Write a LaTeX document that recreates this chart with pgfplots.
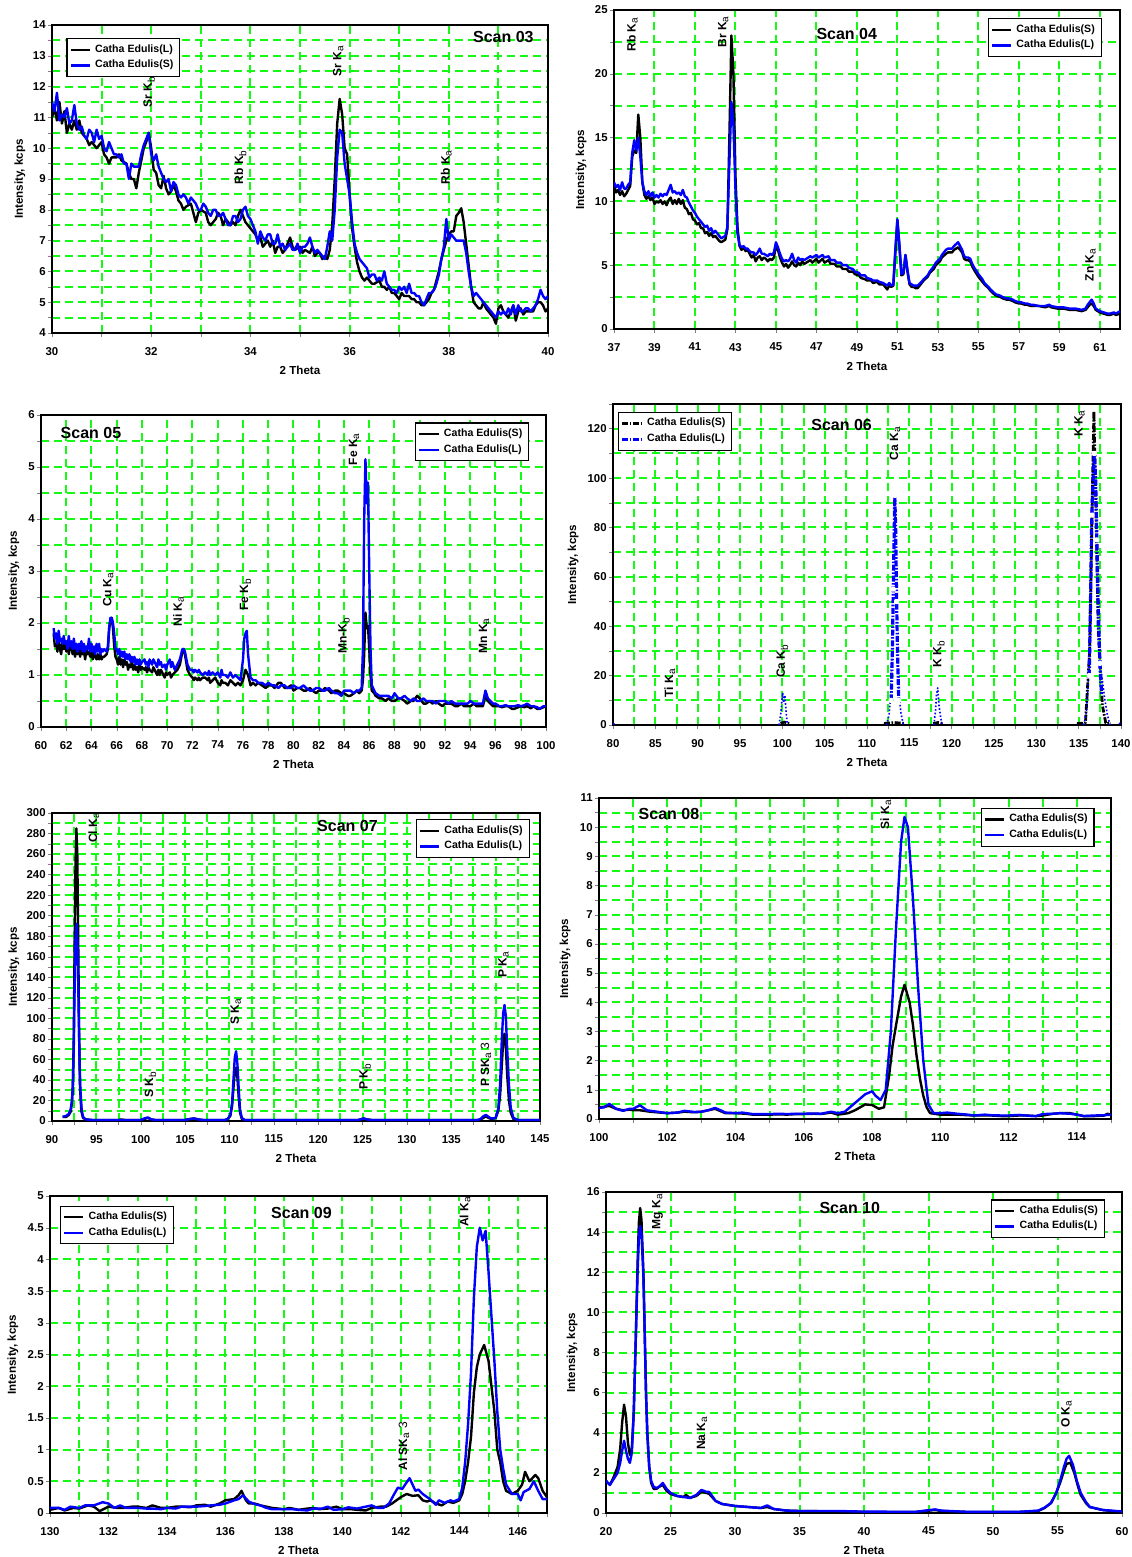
\documentclass[border=0pt]{standalone}
\usepackage{fontspec}
\setmainfont{Liberation Sans}
\usepackage{pgfplots}
\pgfplotsset{compat=1.18}
\usetikzlibrary{calc}
\definecolor{gridgreen}{RGB}{20,250,20}
\definecolor{xblue}{RGB}{0,0,255}
\newcommand{\tickfont}{\bfseries\fontsize{5.7}{7}\selectfont}
\newcommand{\labfont}{\bfseries\fontsize{5.8}{7}\selectfont}
\newcommand{\legfont}{\bfseries\fontsize{5.3}{6}\selectfont}
\newcommand{\titfont}{\bfseries\fontsize{8}{9}\selectfont}
\newcommand{\pkfont}{\bfseries\fontsize{6}{7}\selectfont}
\newcommand{\sa}{\textsubscript{\mdseries a}}
\newcommand{\sbb}{\textsubscript{\mdseries b}}
\pgfplotsset{
  xrf/.style={
    scale only axis, anchor=north west,
    axis line style={line width=1pt},
    tick pos=left, tick align=outside,
    major tick length=2pt,
    grid=major,
    major grid style={gridgreen, dash pattern=on 4pt off 2.5pt, line width=1pt},
    tick label style={font=\tickfont},
    xticklabel style={yshift=-1.5pt},
    yticklabel style={inner xsep=1pt},
    /pgf/number format/assume math mode=true,
    /pgf/number format/fixed,
    xlabel={2 Theta}, ylabel={Intensity, kcps},
    label style={font=\labfont},
    xlabel style={at={(axis description cs:0.5,0)}, anchor=center, yshift=-18.5pt},
    legend style={draw=black, line width=0.6pt, fill=white, font=\legfont,
      inner xsep=1.2pt, inner ysep=0.8pt, row sep=-1.5pt},
    legend cell align=left,
    legend image code/.code={\draw[##1] (0cm,0cm) -- (0.34cm,0cm);},
    every axis plot/.append style={line width=1.2pt, line join=round},
  },
  ylab/.style={ylabel style={at={($(axis description cs:0,0.5)+(-#1,0)$)}, anchor=center}},
}
\begin{document}
\begin{tikzpicture}
\useasboundingbox (0,0) rectangle (565.5pt,-778.5pt);

% ---------- Scan 03
\begin{axis}[xrf, ylab=16pt, at={(26pt,-12.5pt)}, width=248pt, height=154pt,
  xmin=30, xmax=40, ymin=4, ymax=14,
  xtick={30,31,...,40}, xticklabels={30,,32,,34,,36,,38,,40},
  ytick={4,4.5,...,14}, yticklabels={4,,5,,6,,7,,8,,9,,10,,11,,12,,13,,14},
  legend style={at={(0.029,0.957)}, anchor=north west}]
\addplot[black] coordinates {
(30.0,11.0) (30.05,11.3) (30.1,10.9) (30.15,11.5) (30.2,10.8) (30.25,11.2) (30.3,10.5) (30.35,10.8) (30.4,10.6) (30.45,10.9)
(30.5,10.6) (30.55,10.9) (30.6,10.5) (30.7,10.3) (30.75,10.1) (30.8,10.2) (30.9,10.0) (31.0,10.2) (31.05,9.8) (31.1,9.7)
(31.15,9.5) (31.2,9.7) (31.3,9.7) (31.35,9.8) (31.4,9.6) (31.5,9.5) (31.55,9.2) (31.6,9.0) (31.65,9.0) (31.7,8.7)
(31.75,9.2) (31.8,9.6) (31.85,10.0) (31.9,10.2) (31.95,10.5) (32.0,10.0) (32.05,9.3) (32.1,9.2) (32.15,8.8) (32.2,8.7)
(32.25,9.1) (32.3,8.7) (32.35,8.5) (32.4,8.6) (32.45,8.8) (32.5,8.6) (32.55,8.3) (32.6,8.2) (32.65,8.0) (32.7,8.1)
(32.8,8.2) (32.85,7.9) (32.9,7.6) (32.95,7.9) (33.0,8.0) (33.1,7.9) (33.15,7.6) (33.2,7.5) (33.3,7.7) (33.35,7.9)
(33.4,7.8) (33.45,7.5) (33.5,7.7) (33.55,7.6) (33.6,7.5) (33.65,7.6) (33.7,7.5) (33.75,7.8) (33.8,8.0) (33.85,7.8)
(33.9,7.6) (34.0,7.4) (34.05,7.3) (34.1,7.2) (34.15,7.0) (34.2,7.1) (34.25,6.8) (34.3,6.9) (34.35,7.0) (34.4,6.8)
(34.45,7.0) (34.5,6.6) (34.55,6.8) (34.6,6.8) (34.65,6.6) (34.7,6.7) (34.8,7.1) (34.85,6.8) (34.9,6.7) (35.0,6.8)
(35.05,6.6) (35.1,6.7) (35.2,6.6) (35.25,6.8) (35.3,6.5) (35.35,6.6) (35.4,6.6) (35.45,6.4) (35.5,6.5) (35.55,6.4)
(35.6,6.7) (35.65,7.5) (35.7,9.0) (35.75,10.8) (35.8,11.6) (35.85,11.1) (35.9,10.0) (35.95,9.8) (36.0,8.5) (36.05,7.4)
(36.1,6.8) (36.15,6.3) (36.2,6.0) (36.25,5.8) (36.3,5.7) (36.35,5.8) (36.4,5.7) (36.45,5.6) (36.5,5.6) (36.6,5.7)
(36.65,5.5) (36.7,5.5) (36.75,5.4) (36.8,5.5) (36.85,5.3) (36.9,5.3) (36.95,5.2) (37.0,5.1) (37.05,5.3) (37.1,5.2)
(37.2,5.2) (37.25,5.1) (37.3,5.1) (37.35,5.0) (37.4,5.0) (37.45,4.9) (37.5,4.9) (37.55,5.0) (37.6,5.1) (37.65,5.3)
(37.7,5.4) (37.75,5.7) (37.8,6.0) (37.85,6.4) (37.9,6.7) (37.95,7.0) (38.0,7.2) (38.05,7.3) (38.1,7.3) (38.15,7.8)
(38.2,7.9) (38.25,8.05) (38.3,7.6) (38.35,6.9) (38.4,6.2) (38.45,5.5) (38.5,5.0) (38.55,4.9) (38.6,4.8) (38.65,4.8)
(38.7,5.0) (38.75,4.8) (38.8,4.7) (38.85,4.6) (38.9,4.5) (38.95,4.3) (39.0,4.8) (39.05,4.9) (39.1,4.7) (39.15,4.6)
(39.2,4.5) (39.25,4.7) (39.3,4.9) (39.35,4.4) (39.4,4.7) (39.45,4.8) (39.5,4.6) (39.55,4.7) (39.6,4.7) (39.65,4.7)
(39.7,4.7) (39.75,4.9) (39.8,5.0) (39.85,5.0) (39.9,4.9) (39.95,4.7) (40.0,4.8)};
\addlegendentry{Catha Edulis(L)}
\addplot[xblue] coordinates {
(30.0,11.5) (30.05,11.2) (30.1,11.8) (30.15,10.9) (30.2,11.1) (30.25,11.0) (30.3,11.3) (30.35,10.8) (30.4,10.9) (30.45,11.4)
(30.5,10.8) (30.55,10.6) (30.6,10.7) (30.65,10.4) (30.7,10.3) (30.75,10.6) (30.8,10.5) (30.85,10.2) (30.9,10.6) (30.95,10.3)
(31.0,10.4) (31.05,10.0) (31.1,9.9) (31.15,10.2) (31.2,10.0) (31.25,9.8) (31.3,9.8) (31.35,9.7) (31.4,9.8) (31.45,9.5)
(31.5,9.5) (31.55,9.0) (31.6,9.5) (31.65,9.4) (31.7,9.4) (31.75,9.4) (31.8,9.8) (31.85,10.1) (31.9,10.3) (31.95,10.5)
(32.0,9.8) (32.05,9.6) (32.1,9.8) (32.15,9.4) (32.2,9.2) (32.25,9.0) (32.3,8.9) (32.35,9.0) (32.4,8.6) (32.45,8.9)
(32.5,8.8) (32.55,8.5) (32.6,8.4) (32.65,8.5) (32.7,8.4) (32.75,8.2) (32.8,8.4) (32.85,8.3) (32.9,8.2) (32.95,8.0)
(33.0,8.0) (33.05,8.2) (33.1,8.1) (33.15,7.9) (33.2,7.8) (33.25,8.0) (33.3,8.0) (33.35,7.8) (33.4,7.8) (33.45,7.9)
(33.5,7.7) (33.55,7.5) (33.6,7.5) (33.65,7.8) (33.7,7.8) (33.75,7.6) (33.8,7.7) (33.85,8.0) (33.9,8.1) (33.95,7.8)
(34.0,7.7) (34.05,7.5) (34.1,7.3) (34.15,6.9) (34.2,7.3) (34.25,7.1) (34.3,7.0) (34.35,7.2) (34.4,7.2) (34.45,6.9)
(34.5,6.9) (34.55,7.2) (34.6,6.8) (34.65,6.9) (34.7,6.7) (34.75,6.8) (34.8,6.9) (34.85,6.7) (34.9,6.7) (34.95,6.9)
(35.0,6.6) (35.05,6.8) (35.1,6.8) (35.15,6.9) (35.2,7.1) (35.25,6.8) (35.3,6.6) (35.35,6.7) (35.4,6.6) (35.45,6.5)
(35.5,6.4) (35.55,6.8) (35.6,7.3) (35.65,7.0) (35.7,8.0) (35.75,9.7) (35.8,10.6) (35.85,10.5) (35.9,9.5) (35.95,9.0)
(36.0,8.5) (36.05,7.6) (36.1,6.9) (36.15,6.6) (36.2,6.4) (36.25,6.3) (36.3,6.2) (36.35,6.1) (36.4,5.8) (36.45,5.9)
(36.5,5.9) (36.55,5.7) (36.6,5.8) (36.65,5.7) (36.7,6.0) (36.75,5.6) (36.8,5.5) (36.85,5.4) (36.9,5.4) (36.95,5.3)
(37.0,5.5) (37.05,5.4) (37.1,5.5) (37.15,5.3) (37.2,5.6) (37.25,5.3) (37.3,5.3) (37.35,5.2) (37.4,5.2) (37.45,5.0)
(37.5,4.9) (37.55,5.1) (37.6,5.3) (37.65,5.3) (37.7,5.4) (37.75,5.6) (37.8,5.9) (37.85,6.4) (37.9,6.8) (37.95,7.7)
(38.0,7.0) (38.05,7.2) (38.1,7.1) (38.15,7.0) (38.2,7.0) (38.25,7.0) (38.3,7.0) (38.35,6.6) (38.4,6.0) (38.45,5.5)
(38.5,5.2) (38.55,5.3) (38.6,5.2) (38.65,5.1) (38.7,5.0) (38.75,4.9) (38.8,4.8) (38.85,4.7) (38.9,4.6) (38.95,4.5)
(39.0,4.7) (39.05,4.6) (39.1,4.7) (39.15,4.6) (39.2,4.8) (39.25,4.6) (39.3,4.9) (39.35,4.6) (39.4,4.9) (39.45,4.7)
(39.5,4.7) (39.55,4.8) (39.6,4.8) (39.65,4.7) (39.7,4.8) (39.75,4.9) (39.8,5.1) (39.85,5.4) (39.9,5.2) (39.95,5.1) (40.0,5.2)};
\addlegendentry{Catha Edulis(S)}
\node[font=\titfont] at (axis cs:39.1,13.6) {Scan 03};
\node[font=\pkfont, rotate=90, anchor=west] at (axis cs:31.96,11.1) {Sr K\sbb};
\node[font=\pkfont, rotate=90, anchor=west] at (axis cs:33.8,8.6) {Rb K\sbb};
\node[font=\pkfont, rotate=90, anchor=west] at (axis cs:35.77,12.1) {Sr K\sa};
\node[font=\pkfont, rotate=90, anchor=west] at (axis cs:37.95,8.6) {Rb K\sa};
\end{axis}

% ---------- Scan 04
\begin{axis}[xrf, ylab=16.5pt, at={(307pt,-5pt)}, width=253pt, height=159.5pt,
  xmin=37, xmax=62, ymin=0, ymax=25,
  xtick={37,39,...,61},
  ytick={0,2.5,...,25}, yticklabels={0,,5,,10,,15,,20,,25},
  legend style={at={(0.964,0.974)}, anchor=north east}]
\addplot[black] coordinates {
(37.0,11.2) (37.1,10.7) (37.2,10.9) (37.3,10.5) (37.4,10.8) (37.5,10.4) (37.6,10.6) (37.7,10.9) (37.8,11.2) (37.9,13.5)
(38.0,14.0) (38.1,13.8) (38.2,16.8) (38.3,15.0) (38.4,11.5) (38.5,10.5) (38.6,10.2) (38.7,10.4) (38.8,10.1) (38.9,10.3)
(39.0,9.8) (39.1,10.0) (39.2,9.9) (39.3,10.1) (39.4,9.8) (39.5,10.0) (39.6,9.7) (39.7,10.1) (39.8,10.3) (39.9,9.8)
(40.0,10.1) (40.1,9.8) (40.2,10.2) (40.3,9.8) (40.4,10.1) (40.5,9.5) (40.6,9.4) (40.7,9.0) (40.8,9.1) (40.9,8.6)
(41.0,8.5) (41.1,8.2) (41.2,8.3) (41.3,7.9) (41.4,7.9) (41.5,7.5) (41.6,7.6) (41.7,7.3) (41.8,7.5) (41.9,7.2)
(42.0,7.3) (42.1,7.1) (42.2,6.9) (42.3,6.8) (42.4,6.9) (42.5,7.0) (42.6,7.8) (42.7,15.0) (42.8,23.0) (42.9,20.0)
(43.0,12.0) (43.1,8.0) (43.2,6.5) (43.3,6.2) (43.4,6.4) (43.5,6.1) (43.6,6.2) (43.7,5.9) (43.8,5.6) (43.9,5.8)
(44.0,5.3) (44.1,5.6) (44.2,5.7) (44.3,5.4) (44.4,5.6) (44.5,5.5) (44.6,5.3) (44.7,5.5) (44.8,5.4) (44.9,5.6)
(45.0,6.5) (45.1,6.2) (45.2,5.6) (45.3,5.2) (45.4,4.9) (45.5,5.1) (45.6,4.8) (45.7,5.0) (45.8,5.3) (45.9,5.0)
(46.0,4.9) (46.1,5.2) (46.2,5.0) (46.3,5.3) (46.4,5.1) (46.5,5.2) (46.7,5.4) (46.8,5.2) (47.0,5.5) (47.1,5.2)
(47.3,5.5) (47.4,5.2) (47.6,5.4) (47.7,5.1) (47.9,5.1) (48.0,4.9) (48.2,4.9) (48.3,4.7) (48.5,4.7) (48.6,4.5)
(48.8,4.5) (48.9,4.3) (49.1,4.2) (49.2,4.0) (49.4,3.9) (49.5,3.8) (49.7,3.8) (49.8,3.6) (50.0,3.7) (50.1,3.5)
(50.3,3.5) (50.4,3.3) (50.5,3.1) (50.6,3.4) (50.7,3.3) (50.8,3.4) (50.9,6.0) (51.0,8.5) (51.1,6.5) (51.2,4.2)
(51.3,4.3) (51.4,5.8) (51.5,4.5) (51.6,3.5) (51.7,3.3) (51.8,3.3) (51.9,3.2) (52.0,3.2) (52.2,3.6) (52.3,3.8)
(52.5,4.1) (52.6,4.4) (52.8,4.7) (52.9,5.0) (53.1,5.3) (53.2,5.6) (53.4,5.9) (53.5,6.0) (53.7,6.0) (53.8,6.2)
(54.0,6.4) (54.1,6.2) (54.2,6.0) (54.3,5.5) (54.4,5.4) (54.5,5.4) (54.6,5.3) (54.7,4.9) (54.8,4.6) (55.0,4.1)
(55.2,3.7) (55.3,3.5) (55.5,3.2) (55.6,3.0) (55.8,2.7) (55.9,2.6) (56.1,2.5) (56.2,2.4) (56.4,2.3) (56.5,2.3)
(56.7,2.2) (56.8,2.1) (57.0,2.0) (57.1,2.0) (57.3,1.9) (57.4,1.9) (57.6,1.8) (57.7,1.8) (58.0,1.8) (58.3,1.7)
(58.5,1.8) (58.6,1.7) (58.9,1.6) (59.2,1.6) (59.5,1.5) (59.8,1.5) (60.1,1.4) (60.3,1.5) (60.4,1.7) (60.5,1.9)
(60.6,2.0) (60.7,1.8) (60.8,1.5) (60.9,1.4) (61.0,1.3) (61.2,1.2) (61.4,1.1) (61.5,1.1) (61.7,1.2) (61.8,1.1) (62.0,1.2)};
\addlegendentry{Catha Edulis(S)}
\addplot[xblue] coordinates {
(37.0,11.5) (37.1,11.1) (37.2,11.3) (37.3,10.9) (37.4,11.5) (37.5,11.0) (37.6,11.0) (37.7,11.3) (37.8,11.5) (37.9,13.8)
(38.0,14.8) (38.1,14.0) (38.2,15.0) (38.3,13.5) (38.4,11.5) (38.5,10.8) (38.6,10.5) (38.7,10.8) (38.8,10.4) (38.9,10.7)
(39.0,10.3) (39.1,10.5) (39.2,10.3) (39.3,10.6) (39.4,10.4) (39.5,10.6) (39.6,10.5) (39.7,10.9) (39.8,11.3) (39.9,10.7)
(40.0,10.8) (40.1,10.6) (40.2,10.7) (40.3,10.5) (40.4,10.9) (40.5,10.4) (40.6,10.3) (40.7,9.9) (40.8,9.6) (40.9,9.3)
(41.0,9.1) (41.1,8.8) (41.2,8.6) (41.3,8.4) (41.4,8.2) (41.5,8.0) (41.6,8.1) (41.7,7.7) (41.8,7.9) (41.9,7.5)
(42.0,7.7) (42.1,7.5) (42.2,7.3) (42.3,7.1) (42.4,7.2) (42.5,7.3) (42.6,8.0) (42.7,13.0) (42.8,17.8) (42.9,16.0)
(43.0,11.0) (43.1,7.5) (43.2,6.6) (43.3,6.4) (43.4,6.5) (43.5,6.3) (43.6,6.3) (43.7,6.1) (43.8,6.0) (43.9,6.0)
(44.0,5.8) (44.1,6.0) (44.2,6.3) (44.3,5.9) (44.4,5.9) (44.5,5.8) (44.6,5.7) (44.7,5.9) (44.8,5.8) (44.9,6.0)
(45.0,6.8) (45.1,6.4) (45.2,5.9) (45.3,5.5) (45.4,5.3) (45.5,5.4) (45.6,5.3) (45.7,5.5) (45.8,5.9) (45.9,5.4)
(46.0,5.2) (46.1,5.6) (46.2,5.4) (46.3,5.5) (46.4,5.4) (46.5,5.5) (46.7,5.7) (46.8,5.6) (47.0,5.8) (47.1,5.6)
(47.3,5.8) (47.4,5.6) (47.6,5.7) (47.7,5.4) (47.9,5.4) (48.0,5.2) (48.2,5.2) (48.3,5.0) (48.5,5.0) (48.6,4.8)
(48.8,4.7) (48.9,4.5) (49.1,4.4) (49.2,4.2) (49.4,4.2) (49.5,4.0) (49.7,3.9) (49.8,3.8) (50.0,3.8) (50.1,3.7)
(50.3,3.6) (50.4,3.5) (50.5,3.4) (50.6,3.6) (50.7,3.4) (50.8,3.5) (50.9,6.2) (51.0,8.6) (51.1,6.6) (51.2,4.3)
(51.3,4.4) (51.4,5.8) (51.5,4.6) (51.6,3.6) (51.7,3.5) (51.8,3.4) (51.9,3.4) (52.0,3.4) (52.2,3.7) (52.3,3.9)
(52.5,4.2) (52.6,4.5) (52.8,4.9) (52.9,5.2) (53.1,5.5) (53.2,5.8) (53.4,6.2) (53.5,6.3) (53.7,6.3) (53.8,6.5)
(54.0,6.8) (54.1,6.5) (54.2,6.2) (54.3,5.7) (54.4,5.6) (54.5,5.6) (54.6,5.5) (54.7,5.1) (54.8,4.8) (55.0,4.3)
(55.2,3.9) (55.3,3.6) (55.5,3.3) (55.6,3.1) (55.8,2.8) (55.9,2.7) (56.1,2.6) (56.2,2.5) (56.4,2.4) (56.5,2.4)
(56.7,2.3) (56.8,2.2) (57.0,2.1) (57.1,2.1) (57.3,2.0) (57.4,2.0) (57.6,1.9) (57.7,1.9) (58.0,1.8) (58.3,1.8)
(58.5,1.9) (58.6,1.8) (58.9,1.7) (59.2,1.7) (59.5,1.6) (59.8,1.6) (60.1,1.5) (60.3,1.6) (60.4,1.9) (60.5,2.1)
(60.6,2.3) (60.7,2.0) (60.8,1.6) (60.9,1.5) (61.0,1.4) (61.2,1.3) (61.4,1.2) (61.5,1.2) (61.7,1.3) (61.8,1.2) (62.0,1.4)};
\addlegendentry{Catha Edulis(L)}
\node[font=\titfont] at (axis cs:48.5,23.1) {Scan 04};
\node[font=\pkfont, rotate=90, anchor=west] at (axis cs:37.9,21.2) {Rb K\sa};
\node[font=\pkfont, rotate=90, anchor=west] at (axis cs:42.4,21.5) {Br K\sa};
\node[font=\pkfont, rotate=90, anchor=west] at (axis cs:60.55,3.2) {Zn K\sa};
\end{axis}

% ---------- Scan 05
\begin{axis}[xrf, ylab=13.5pt, at={(20.5pt,-207.5pt)}, width=252.5pt, height=156pt,
  xmin=60, xmax=100, ymin=0, ymax=6,
  xtick={60,62,...,100},
  ytick={0,0.5,...,6}, yticklabels={0,,1,,2,,3,,4,,5,,6},
  legend style={at={(0.967,0.976)}, anchor=north east}]
\addplot[black] coordinates {
(61.0,1.8) (61.1,1.55) (61.2,1.6) (61.3,1.45) (61.4,1.7) (61.5,1.5) (61.6,1.4) (61.7,1.65) (61.8,1.5) (61.9,1.6)
(62.0,1.45) (62.1,1.6) (62.2,1.4) (62.3,1.55) (62.4,1.6) (62.5,1.4) (62.6,1.5) (62.7,1.35) (62.8,1.55) (62.9,1.4)
(63.0,1.5) (63.1,1.35) (63.2,1.55) (63.3,1.4) (63.4,1.45) (63.5,1.3) (63.6,1.5) (63.7,1.4) (63.8,1.45) (63.9,1.35)
(64.0,1.45) (64.1,1.3) (64.2,1.45) (64.3,1.35) (64.4,1.3) (64.5,1.4) (64.6,1.3) (64.7,1.4) (64.8,1.3) (64.9,1.35)
(65.0,1.35) (65.2,1.4) (65.3,1.5) (65.4,1.9) (65.5,2.05) (65.6,2.1) (65.7,1.9) (65.8,1.55) (65.9,1.35) (66.0,1.3)
(66.1,1.2) (66.2,1.35) (66.3,1.2) (66.4,1.3) (66.5,1.15) (66.6,1.3) (66.7,1.2) (66.8,1.25) (66.9,1.1) (67.0,1.2)
(67.1,1.15) (67.2,1.25) (67.3,1.1) (67.4,1.2) (67.5,1.1) (67.6,1.15) (67.7,1.05) (67.8,1.2) (67.9,1.1) (68.0,1.15)
(68.2,1.1) (68.3,1.15) (68.4,1.05) (68.5,1.15) (68.6,1.1) (68.8,1.05) (68.9,1.15) (69.0,1.1) (69.2,1.0) (69.3,1.1)
(69.4,1.0) (69.5,1.1) (69.6,1.05) (69.8,0.95) (69.9,1.05) (70.0,1.0) (70.2,1.05) (70.3,0.95) (70.4,1.0) (70.6,1.05)
(70.8,1.1) (71.0,1.2) (71.2,1.45) (71.3,1.5) (71.4,1.4) (71.6,1.1) (71.8,1.0) (72.0,0.95) (72.1,0.9) (72.2,0.95)
(72.4,0.9) (72.5,0.95) (72.6,0.9) (72.8,0.95) (73.0,0.95) (73.2,0.9) (73.3,0.95) (73.4,0.85) (73.6,0.9) (73.8,0.95)
(74.0,0.85) (74.2,0.8) (74.3,0.9) (74.4,0.85) (74.6,0.85) (74.8,0.8) (75.0,0.9) (75.2,0.85) (75.4,0.8) (75.6,0.85)
(75.8,0.8) (76.0,0.9) (76.2,1.1) (76.3,1.05) (76.4,1.0) (76.6,0.8) (76.8,0.85) (77.0,0.8) (77.2,0.85) (77.5,0.8)
(77.8,0.75) (78.0,0.8) (78.3,0.8) (78.5,0.75) (78.8,0.85) (79.0,0.85) (79.3,0.75) (79.5,0.75) (79.8,0.8) (80.0,0.7)
(80.3,0.75) (80.5,0.75) (80.8,0.7) (81.0,0.7) (81.3,0.75) (81.5,0.7) (81.8,0.65) (82.0,0.7) (82.3,0.7) (82.5,0.75)
(82.8,0.7) (83.0,0.65) (83.3,0.7) (83.5,0.7) (83.8,0.65) (84.0,0.65) (84.3,0.6) (84.5,0.6) (84.8,0.65) (85.0,0.7)
(85.2,0.65) (85.4,0.7) (85.5,0.9) (85.6,1.4) (85.7,2.2) (85.8,1.9) (85.9,1.95) (86.0,1.5) (86.1,1.0) (86.2,0.7)
(86.4,0.65) (86.5,0.6) (86.8,0.55) (87.0,0.55) (87.3,0.5) (87.5,0.55) (87.8,0.5) (88.0,0.5) (88.3,0.55) (88.5,0.55)
(88.8,0.5) (89.0,0.45) (89.3,0.5) (89.5,0.5) (89.8,0.6) (90.0,0.55) (90.3,0.45) (90.5,0.45) (90.8,0.5) (91.0,0.45)
(91.3,0.5) (91.5,0.45) (91.8,0.4) (92.0,0.45) (92.3,0.45) (92.5,0.45) (92.8,0.4) (93.0,0.4) (93.3,0.45) (93.5,0.4)
(93.8,0.4) (94.0,0.4) (94.3,0.45) (94.5,0.4) (94.8,0.4) (95.0,0.4) (95.2,0.6) (95.4,0.5) (95.6,0.45) (95.8,0.4)
(96.0,0.4) (96.3,0.4) (96.5,0.38) (96.8,0.4) (97.0,0.4) (97.3,0.35) (97.5,0.35) (97.8,0.38) (98.0,0.4) (98.3,0.38)
(98.5,0.4) (98.8,0.36) (99.0,0.4) (99.3,0.35) (99.5,0.35) (99.8,0.38) (100.0,0.4)};
\addlegendentry{Catha Edulis(S)}
\addplot[xblue] coordinates {
(61.0,1.9) (61.1,1.7) (61.2,1.8) (61.3,1.6) (61.4,1.85) (61.5,1.65) (61.6,1.7) (61.7,1.6) (61.8,1.75) (61.9,1.6)
(62.0,1.65) (62.1,1.5) (62.2,1.75) (62.3,1.55) (62.4,1.65) (62.5,1.5) (62.6,1.7) (62.7,1.5) (62.8,1.6) (62.9,1.45)
(63.0,1.6) (63.1,1.5) (63.2,1.65) (63.3,1.45) (63.4,1.6) (63.5,1.45) (63.6,1.55) (63.7,1.5) (63.8,1.7) (63.9,1.45)
(64.0,1.6) (64.1,1.45) (64.2,1.55) (64.3,1.4) (64.4,1.6) (64.5,1.45) (64.6,1.6) (64.7,1.4) (64.8,1.5) (64.9,1.45)
(65.0,1.5) (65.2,1.45) (65.3,1.55) (65.4,1.9) (65.5,2.1) (65.6,2.1) (65.7,2.0) (65.8,1.8) (65.9,1.5) (66.0,1.5)
(66.1,1.4) (66.2,1.5) (66.3,1.35) (66.4,1.45) (66.5,1.35) (66.6,1.45) (66.7,1.3) (66.8,1.4) (66.9,1.3) (67.0,1.4)
(67.1,1.25) (67.2,1.35) (67.3,1.25) (67.4,1.35) (67.5,1.2) (67.6,1.3) (67.7,1.2) (67.8,1.3) (67.9,1.2) (68.0,1.25)
(68.2,1.3) (68.3,1.2) (68.4,1.25) (68.5,1.15) (68.6,1.3) (68.8,1.2) (68.9,1.3) (69.0,1.25) (69.2,1.15) (69.3,1.3)
(69.4,1.2) (69.5,1.25) (69.6,1.15) (69.8,1.2) (69.9,1.1) (70.0,1.2) (70.2,1.3) (70.3,1.15) (70.4,1.25) (70.6,1.1)
(70.8,1.2) (71.0,1.3) (71.2,1.5) (71.3,1.5) (71.4,1.45) (71.6,1.2) (71.8,1.1) (72.0,1.1) (72.1,1.05) (72.2,1.1)
(72.4,1.05) (72.5,1.1) (72.6,1.05) (72.8,1.0) (73.0,1.05) (73.2,1.0) (73.3,1.08) (73.4,1.0) (73.6,1.05) (73.8,1.0)
(74.0,1.05) (74.2,0.95) (74.3,1.1) (74.4,1.0) (74.6,1.0) (74.8,0.95) (75.0,1.05) (75.2,0.95) (75.4,1.0) (75.6,0.95)
(75.8,0.9) (76.0,1.3) (76.1,1.7) (76.2,1.8) (76.3,1.85) (76.4,1.4) (76.6,0.95) (76.8,0.9) (77.0,0.9) (77.2,0.85)
(77.5,0.85) (77.8,0.8) (78.0,0.85) (78.3,0.8) (78.5,0.8) (78.8,0.75) (79.0,0.8) (79.3,0.8) (79.5,0.75) (79.8,0.75)
(80.0,0.8) (80.3,0.75) (80.5,0.75) (80.8,0.8) (81.0,0.75) (81.3,0.7) (81.5,0.7) (81.8,0.75) (82.0,0.75) (82.3,0.7)
(82.5,0.7) (82.8,0.75) (83.0,0.7) (83.3,0.65) (83.5,0.65) (83.8,0.6) (84.0,0.7) (84.3,0.7) (84.5,0.7) (84.8,0.65)
(85.0,0.7) (85.2,0.7) (85.4,0.75) (85.5,1.5) (85.6,4.0) (85.7,5.15) (85.8,4.3) (85.9,4.7) (86.0,3.0) (86.1,1.5)
(86.2,0.8) (86.4,0.7) (86.5,0.65) (86.8,0.6) (87.0,0.6) (87.3,0.6) (87.5,0.6) (87.8,0.55) (88.0,0.65) (88.3,0.55)
(88.5,0.55) (88.8,0.6) (89.0,0.55) (89.3,0.5) (89.5,0.55) (89.8,0.5) (90.0,0.5) (90.3,0.55) (90.5,0.5) (90.8,0.5)
(91.0,0.5) (91.3,0.45) (91.5,0.5) (91.8,0.5) (92.0,0.5) (92.3,0.45) (92.5,0.5) (92.8,0.45) (93.0,0.45) (93.3,0.45)
(93.5,0.45) (93.8,0.45) (94.0,0.5) (94.3,0.45) (94.5,0.45) (94.8,0.45) (95.0,0.45) (95.2,0.7) (95.4,0.55) (95.6,0.5)
(95.8,0.45) (96.0,0.45) (96.3,0.4) (96.5,0.4) (96.8,0.42) (97.0,0.4) (97.3,0.4) (97.5,0.4) (97.8,0.42) (98.0,0.4)
(98.3,0.42) (98.5,0.45) (98.8,0.4) (99.0,0.4) (99.3,0.38) (99.5,0.35) (99.8,0.4) (100.0,0.4)};
\addlegendentry{Catha Edulis(L)}
\node[font=\titfont, anchor=west] at (axis cs:61,5.65) {Scan 05};
\node[font=\pkfont, rotate=90, anchor=west] at (axis cs:65.33,2.18) {Cu K\sa};
\node[font=\pkfont, rotate=90, anchor=west] at (axis cs:70.9,1.8) {Ni K\sa};
\node[font=\pkfont, rotate=90, anchor=west] at (axis cs:76.2,2.1) {Fe K\sbb};
\node[font=\pkfont, rotate=90, anchor=west] at (axis cs:84.0,1.28) {Mn-K\sbb};
\node[font=\pkfont, rotate=90, anchor=west] at (axis cs:84.8,4.9) {Fe K\sa};
\node[font=\pkfont, rotate=90, anchor=west] at (axis cs:95.1,1.28) {Mn K\sa};
\end{axis}

% ---------- Scan 06
\begin{axis}[xrf, ylab=20pt, at={(306.5pt,-202pt)}, width=254pt, height=160.5pt,
  xmin=80, xmax=140, ymin=0, ymax=130,
  xtick={80,82.5,...,140}, xticklabels={80,,85,,90,,95,,100,,105,,110,,115,,120,,125,,130,,135,,140},
  ytick={0,10,...,130}, yticklabels={0,,20,,40,,60,,80,,100,,120,},
  unbounded coords=jump,
  legend style={at={(0.009,0.975)}, anchor=north west}]
\addplot[black, line width=1.4pt, dash pattern=on 3pt off 0.8pt on 0.8pt off 0.8pt] coordinates {
(99.8,0.6) (100.2,1.2) (100.8,0.6) (nan,nan) (112.0,0.6) (113.2,1.0) (114.5,0.6) (nan,nan) (117.8,0.6) (118.4,1.0) (119.0,0.6)
(nan,nan) (134.8,0.6) (135.8,0.8) (136.3,30) (136.6,90) (136.8,127) (137.0,95) (137.3,40) (137.8,8) (138.2,0.8) (138.8,0.6)};
\addlegendentry{Catha Edulis(S)}
\addplot[xblue, line width=1.6pt, dash pattern=on 3pt off 0.8pt on 0.8pt off 0.8pt,
  mark=*, mark size=0.7pt, mark options={solid, fill=white, draw=white}, mark repeat=2] coordinates {
(112.85,10) (113.0,30) (113.1,55) (113.2,75) (113.28,93) (113.38,80) (113.5,50) (113.6,30) (113.75,10) (nan,nan)
(136.25,20) (136.4,50) (136.55,85) (136.7,100) (136.85,110) (137.0,100) (137.15,75) (137.3,50) (137.5,25) (137.7,12)};
\addlegendentry{Catha Edulis(L)}
\addplot[xblue, line width=0.8pt, densely dotted, forget plot] coordinates {
(99.6,0) (99.8,4) (99.95,10) (100.05,13) (100.15,9) (100.3,12) (100.45,5) (100.6,0) (nan,nan)
(112.3,0) (112.6,4) (112.8,12) (112.95,30) (nan,nan) (113.6,30) (113.8,12) (114.0,5) (114.3,0) (nan,nan)
(117.9,0) (118.1,6) (118.2,12) (118.35,15) (118.5,8) (118.7,3) (118.9,0) (nan,nan)
(135.6,0) (135.9,5) (136.1,15) (136.3,40) (nan,nan) (137.5,25) (137.8,18) (138.1,10) (138.4,4) (138.7,0) (nan,nan)
(80.0,0.5) (80.2,0.3) (nan,nan) (139.8,0.3) (140.0,1.5)};
\node[font=\titfont] at (axis cs:107,121.6) {Scan 06};
\node[font=\pkfont, rotate=90, anchor=west] at (axis cs:86.7,8.4) {Ti K\sa};
\node[font=\pkfont, rotate=90, anchor=west] at (axis cs:100.0,16.2) {Ca K\sbb};
\node[font=\pkfont, rotate=90, anchor=west] at (axis cs:113.3,104.4) {Ca K\sa};
\node[font=\pkfont, rotate=90, anchor=west] at (axis cs:118.5,20.5) {K K\sbb};
\node[font=\pkfont, rotate=90, anchor=west] at (axis cs:135.1,113.9) {K K\sa};
\end{axis}

% ---------- Scan 07
\begin{axis}[xrf, ylab=19pt, at={(26pt,-406.5pt)}, width=244pt, height=154pt,
  xmin=90, xmax=145, ymin=0, ymax=300,
  xtick={90,92.5,...,145}, xticklabels={90,,95,,100,,105,,110,,115,,120,,125,,130,,135,,140,,145},
  ytick={0,10,...,300}, yticklabels={0,,20,,40,,60,,80,,100,,120,,140,,160,,180,,200,,220,,240,,260,,280,,300},
  legend style={at={(0.979,0.98)}, anchor=north east}]
\addplot[black] coordinates {
(91.2,4) (91.6,4) (91.9,6) (92.1,9) (92.25,18) (92.35,35) (92.45,80) (92.55,170) (92.65,250) (92.75,285)
(92.85,260) (92.95,180) (93.05,90) (93.15,35) (93.3,10) (93.5,3) (93.8,1.5) (94.5,1) (97.5,1) (97.8,1.5) (98.2,1)
(100.0,1) (100.4,2) (100.8,3) (101.2,1.5) (101.6,1) (105.0,1) (105.6,2) (106.0,2.5) (106.5,1.5) (107,1)
(109.5,1) (109.8,2) (110.1,5) (110.3,15) (110.45,32) (110.6,48) (110.75,52) (110.9,42) (111.05,22) (111.2,8)
(111.4,2) (111.7,1) (124.5,1) (124.8,1.5) (125.1,2.5) (125.5,1.5) (126,1) (138.0,1) (138.3,1.5) (138.6,3)
(138.9,4.5) (139.2,3) (139.5,2) (139.8,2.5) (140.0,3) (140.3,10) (140.5,25) (140.7,55) (140.85,78) (141.0,85)
(141.15,72) (141.3,45) (141.5,20) (141.7,8) (142.0,2) (142.5,1) (145,1)};
\addlegendentry{Catha Edulis(S)}
\addplot[xblue] coordinates {
(91.2,4) (91.6,5) (91.9,7) (92.1,11) (92.25,20) (92.35,35) (92.45,70) (92.55,130) (92.65,175) (92.78,192)
(92.9,165) (93.0,110) (93.1,60) (93.2,30) (93.35,10) (93.5,4) (93.8,1.5) (94.5,1) (97.5,1)
(100.0,1) (100.4,2.5) (100.8,3.5) (101.2,1.5) (101.6,1) (105.0,1) (105.6,2) (106.0,2.5) (106.5,1.5) (107,1)
(109.5,1) (109.8,2) (110.1,6) (110.3,18) (110.45,40) (110.6,62) (110.75,68) (110.9,55) (111.05,30) (111.2,10)
(111.4,3) (111.7,1) (124.5,1) (124.8,1.5) (125.1,2.5) (125.5,1.5) (126,1) (138.0,1) (138.3,2) (138.6,4.5)
(138.9,6) (139.2,4) (139.5,2.5) (139.8,2.5) (140.0,3) (140.3,12) (140.5,35) (140.7,80) (140.85,105) (141.0,113)
(141.15,102) (141.3,70) (141.5,35) (141.7,13) (142.0,3) (142.5,1) (145,1)};
\addlegendentry{Catha Edulis(L)}
\node[font=\titfont] at (axis cs:123.3,287) {Scan 07};
\node[font=\pkfont, rotate=90, anchor=west] at (axis cs:94.7,264) {Cl K\sa};
\node[font=\pkfont, rotate=90, anchor=west] at (axis cs:101.1,15.6) {S K\sbb};
\node[font=\pkfont, rotate=90, anchor=west] at (axis cs:110.7,87) {S K\sa};
\node[font=\pkfont, rotate=90, anchor=west] at (axis cs:125.3,23.7) {P K\sbb};
\node[font=\pkfont, rotate=90, anchor=west] at (axis cs:138.9,26.3) {P SK\sa\ {\mdseries 3}};
\node[font=\pkfont, rotate=90, anchor=west] at (axis cs:140.9,132.6) {P K\sa};
\end{axis}

% ---------- Scan 08
\begin{axis}[xrf, ylab=17pt, at={(299.5pt,-399pt)}, width=256pt, height=160.5pt,
  xmin=100, xmax=115, ymin=0, ymax=11,
  xtick={100,101,...,115}, xticklabels={100,,102,,104,,106,,108,,110,,112,,114,},
  ytick={0,0.5,...,11}, yticklabels={0,,1,,2,,3,,4,,5,,6,,7,,8,,9,,10,,11},
  legend style={at={(0.968,0.969)}, anchor=north east}]
\addplot[black] coordinates {
(100.0,0.4) (100.15,0.42) (100.3,0.45) (100.5,0.35) (100.7,0.3) (100.9,0.32) (101.0,0.3) (101.2,0.3) (101.5,0.25)
(101.8,0.22) (102.0,0.2) (102.3,0.22) (102.5,0.25) (102.8,0.23) (103.0,0.25) (103.2,0.3) (103.4,0.35) (103.6,0.25)
(103.7,0.2) (104.0,0.2) (104.3,0.18) (104.5,0.15) (104.8,0.15) (105.0,0.15) (105.3,0.16) (105.5,0.15) (105.8,0.17)
(106.0,0.17) (106.3,0.18) (106.5,0.17) (106.8,0.22) (107.0,0.15) (107.3,0.2) (107.5,0.3) (107.65,0.4) (107.8,0.5)
(108.0,0.48) (108.2,0.35) (108.35,0.4) (108.5,1.5) (108.6,2.5) (108.7,3.2) (108.85,4.2) (108.95,4.6) (109.1,4.0)
(109.2,3.2) (109.3,2.2) (109.4,1.4) (109.5,0.8) (109.6,0.4) (109.7,0.2) (110.0,0.15) (110.3,0.15) (110.5,0.15)
(110.8,0.13) (111.0,0.12) (111.3,0.12) (111.5,0.12) (111.8,0.1) (112.0,0.1) (112.3,0.12) (112.5,0.12) (112.8,0.1)
(113.0,0.12) (113.3,0.18) (113.5,0.2) (113.8,0.2) (114.0,0.15) (114.2,0.1) (114.5,0.1) (114.8,0.12) (114.9,0.18) (115.0,0.15)};
\addlegendentry{Catha Edulis(S)}
\addplot[xblue] coordinates {
(100.0,0.38) (100.15,0.4) (100.3,0.52) (100.5,0.35) (100.7,0.28) (100.9,0.35) (101.0,0.35) (101.2,0.47) (101.4,0.3)
(101.7,0.25) (102.0,0.2) (102.3,0.22) (102.5,0.28) (102.8,0.24) (103.0,0.25) (103.2,0.3) (103.4,0.38) (103.6,0.28)
(103.7,0.22) (104.0,0.2) (104.2,0.22) (104.5,0.17) (104.8,0.17) (105.0,0.17) (105.3,0.18) (105.5,0.17) (105.8,0.18)
(106.0,0.18) (106.3,0.19) (106.5,0.18) (106.8,0.25) (107.0,0.2) (107.2,0.25) (107.4,0.45) (107.6,0.65) (107.8,0.85)
(108.0,0.95) (108.1,0.8) (108.25,0.65) (108.4,1.0) (108.55,3.0) (108.7,6.5) (108.85,9.5) (108.95,10.35) (109.05,10.0)
(109.2,7.5) (109.35,4.5) (109.5,2.0) (109.65,0.5) (109.8,0.2) (110.0,0.2) (110.2,0.22) (110.5,0.18) (110.8,0.15)
(111.0,0.12) (111.3,0.15) (111.5,0.13) (111.8,0.12) (112.0,0.12) (112.3,0.14) (112.5,0.12) (112.8,0.1) (113.0,0.17)
(113.3,0.18) (113.5,0.2) (113.8,0.18) (114.0,0.15) (114.2,0.1) (114.5,0.12) (114.8,0.13) (115.0,0.15)};
\addlegendentry{Catha Edulis(L)}
\node[font=\titfont] at (axis cs:102.05,10.46) {Scan 08};
\node[font=\pkfont, rotate=90, anchor=west] at (axis cs:108.4,9.69) {Si K\sa};
\end{axis}

% ---------- Scan 09
\begin{axis}[xrf, ylab=18.5pt, at={(25pt,-598pt)}, width=248.5pt, height=158.5pt,
  xmin=130, xmax=147, ymin=0, ymax=5,
  xtick={130,131,...,147}, xticklabels={130,,132,,134,,136,,138,,140,,142,,144,,146,},
  ytick={0,0.5,...,5},
  legend style={at={(0.02,0.97)}, anchor=north west}]
\addplot[black] coordinates {
(130.0,0.05) (130.3,0.08) (130.5,0.04) (130.8,0.08) (131.0,0.07) (131.3,0.12) (131.5,0.1) (131.7,0.03) (132.0,0.1)
(132.3,0.08) (132.5,0.08) (132.8,0.1) (133.0,0.1) (133.3,0.08) (133.5,0.12) (133.8,0.08) (134.0,0.08) (134.3,0.1)
(134.5,0.1) (134.8,0.09) (135.0,0.12) (135.3,0.13) (135.5,0.1) (135.8,0.15) (136.0,0.2) (136.3,0.22) (136.45,0.28)
(136.55,0.35) (136.7,0.2) (136.8,0.15) (137.0,0.15) (137.2,0.12) (137.4,0.1) (137.6,0.08) (138.0,0.06) (138.2,0.08)
(138.5,0.05) (138.8,0.07) (139.0,0.08) (139.2,0.06) (139.5,0.07) (139.8,0.1) (140.0,0.06) (140.3,0.06) (140.5,0.05)
(140.8,0.04) (141.0,0.08) (141.3,0.1) (141.5,0.1) (141.7,0.15) (141.85,0.2) (142.0,0.25) (142.2,0.3) (142.4,0.27)
(142.6,0.28) (142.75,0.2) (142.9,0.18) (143.0,0.2) (143.2,0.15) (143.4,0.12) (143.6,0.18) (143.8,0.16) (144.0,0.2)
(144.1,0.3) (144.2,0.5) (144.3,0.8) (144.4,1.2) (144.5,1.9) (144.6,2.3) (144.7,2.5) (144.85,2.65) (145.0,2.4)
(145.1,2.0) (145.2,1.6) (145.3,1.0) (145.4,0.8) (145.5,0.5) (145.6,0.35) (145.8,0.3) (146.0,0.35) (146.15,0.45)
(146.25,0.65) (146.4,0.5) (146.6,0.6) (146.7,0.55) (146.85,0.35) (147.0,0.25)};
\addlegendentry{Catha Edulis(S)}
\addplot[xblue] coordinates {
(130.0,0.08) (130.3,0.08) (130.5,0.05) (130.7,0.1) (131.0,0.08) (131.2,0.12) (131.5,0.12) (131.8,0.17) (132.0,0.15)
(132.2,0.08) (132.4,0.12) (132.6,0.08) (133.0,0.08) (133.3,0.07) (133.5,0.07) (133.8,0.06) (134.0,0.08) (134.3,0.07)
(134.5,0.1) (134.8,0.1) (135.0,0.1) (135.3,0.11) (135.5,0.12) (135.8,0.13) (136.0,0.15) (136.3,0.2) (136.45,0.22)
(136.6,0.28) (136.8,0.18) (137.0,0.14) (137.2,0.12) (137.4,0.08) (137.6,0.06) (138.0,0.06) (138.3,0.06) (138.5,0.05)
(138.8,0.04) (139.0,0.07) (139.3,0.07) (139.5,0.1) (139.7,0.05) (140.0,0.06) (140.2,0.09) (140.5,0.07) (140.8,0.1)
(141.0,0.12) (141.2,0.08) (141.4,0.08) (141.6,0.15) (141.75,0.28) (141.9,0.4) (142.05,0.38) (142.15,0.45) (142.3,0.55)
(142.4,0.45) (142.5,0.35) (142.6,0.37) (142.75,0.3) (142.9,0.25) (143.0,0.22) (143.2,0.13) (143.3,0.2) (143.5,0.16)
(143.7,0.2) (143.8,0.18) (144.0,0.22) (144.1,0.4) (144.2,0.8) (144.3,1.4) (144.4,2.2) (144.5,3.4) (144.6,4.2)
(144.7,4.5) (144.8,4.3) (144.9,4.45) (145.0,3.8) (145.1,3.1) (145.2,2.4) (145.3,1.6) (145.4,1.0) (145.5,0.7)
(145.6,0.45) (145.8,0.3) (146.0,0.3) (146.1,0.2) (146.2,0.33) (146.4,0.38) (146.55,0.5) (146.7,0.35) (146.85,0.22) (147.0,0.22)};
\addlegendentry{Catha Edulis(L)}
\node[font=\titfont] at (axis cs:138.6,4.73) {Scan 09};
\node[font=\pkfont, rotate=90, anchor=west] at (axis cs:142.1,0.56) {Al SK\sa\ {\mdseries 3}};
\node[font=\pkfont, rotate=90, anchor=west] at (axis cs:144.2,4.4) {Al K\sa};
\end{axis}

% ---------- Scan 10
\begin{axis}[xrf, ylab=17pt, at={(303pt,-596pt)}, width=258pt, height=160.5pt,
  xmin=20, xmax=60, ymin=0, ymax=16,
  xtick={20,25,...,60},
  ytick={0,1,...,16}, yticklabels={0,,2,,4,,6,,8,,10,,12,,14,,16},
  legend style={at={(0.967,0.977)}, anchor=north east}]
\addplot[black] coordinates {
(20.0,1.6) (20.3,1.4) (20.6,1.8) (20.9,2.3) (21.1,3.2) (21.25,4.5) (21.4,5.4) (21.55,4.8) (21.7,3.5) (21.85,2.9)
(22.0,3.2) (22.15,5.0) (22.3,8.5) (22.45,12.5) (22.55,14.5) (22.65,15.2) (22.75,14.6) (22.9,12.0) (23.0,9.0)
(23.1,6.0) (23.2,4.0) (23.35,2.3) (23.5,1.5) (23.7,1.2) (23.9,1.2) (24.1,1.3) (24.4,1.4) (24.7,1.1) (25.0,0.95)
(25.5,0.85) (26.0,0.8) (26.2,0.9) (26.5,0.75) (27.0,0.85) (27.4,1.05) (27.8,1.0) (28.0,0.95) (28.5,0.6) (29.0,0.45)
(30.0,0.35) (31.0,0.3) (32.0,0.25) (32.5,0.3) (33.0,0.2) (34.0,0.12) (35.0,0.1) (38.0,0.08) (40.0,0.05) (44.0,0.05)
(45.5,0.15) (46.0,0.1) (48.0,0.05) (52.0,0.05) (53.5,0.1) (54.0,0.25) (54.5,0.5) (54.9,1.0) (55.2,1.5) (55.5,2.1)
(55.7,2.45) (56.0,2.5) (56.3,2.0) (56.6,1.3) (56.8,0.9) (57.2,0.5) (57.5,0.3) (58.5,0.15) (60.0,0.05)};
\addlegendentry{Catha Edulis(S)}
\addplot[xblue] coordinates {
(20.0,1.6) (20.3,1.4) (20.6,1.7) (20.9,2.0) (21.1,2.5) (21.25,3.1) (21.4,3.6) (21.55,3.1) (21.7,2.7) (21.85,2.5)
(22.0,3.0) (22.15,5.0) (22.3,8.5) (22.45,12.0) (22.55,13.8) (22.65,14.3) (22.75,13.9) (22.9,11.8) (23.0,9.0)
(23.1,6.0) (23.2,4.0) (23.35,2.3) (23.5,1.6) (23.7,1.3) (23.9,1.25) (24.1,1.3) (24.4,1.5) (24.7,1.2) (25.0,1.0)
(25.5,0.85) (26.0,0.8) (26.5,0.75) (27.0,0.9) (27.4,1.15) (27.8,1.05) (28.0,1.05) (28.5,0.6) (29.0,0.45) (30.0,0.35)
(31.0,0.3) (32.0,0.25) (32.5,0.38) (33.0,0.2) (34.0,0.12) (35.0,0.1) (38.0,0.1) (40.0,0.07) (44.0,0.06) (45.5,0.18)
(46.0,0.12) (48.0,0.06) (52.0,0.06) (53.5,0.12) (54.0,0.27) (54.5,0.5) (54.9,1.0) (55.2,1.6) (55.5,2.3) (55.7,2.7)
(55.9,2.85) (56.2,2.4) (56.5,1.6) (56.8,1.0) (57.2,0.55) (57.5,0.3) (58.5,0.15) (60.0,0.08)};
\addlegendentry{Catha Edulis(L)}
\node[font=\titfont] at (axis cs:38.9,15.2) {Scan 10};
\node[font=\pkfont, rotate=90, anchor=west] at (axis cs:24.0,13.8) {Mg K\sa};
\node[font=\pkfont, rotate=90, anchor=west] at (axis cs:27.45,2.8) {Na K\sa};
\node[font=\pkfont, rotate=90, anchor=west] at (axis cs:55.7,3.9) {O K\sa};
\end{axis}
\end{tikzpicture}
\end{document}
